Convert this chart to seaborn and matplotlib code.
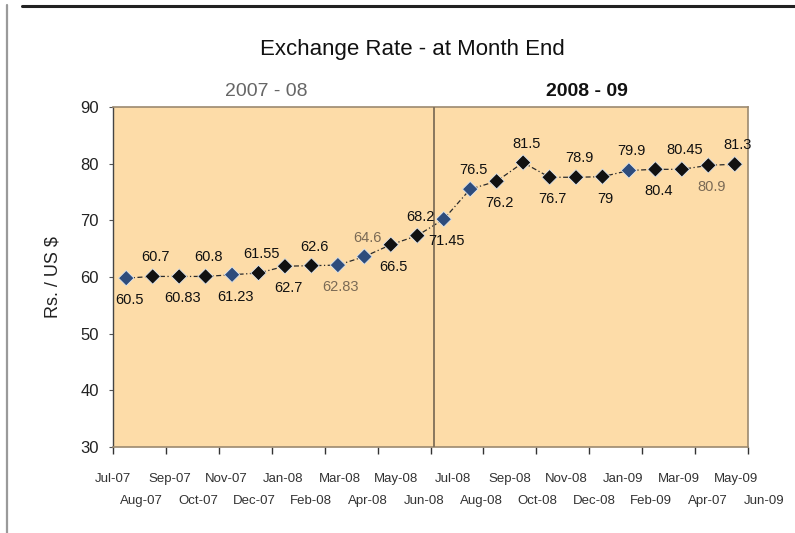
import matplotlib
matplotlib.use("Agg")
import matplotlib.pyplot as plt
import matplotlib.transforms as mtransforms
from matplotlib.lines import Line2D
import seaborn as sns
import pandas as pd

# ---------------- data ----------------
months = ["Jul-07", "Aug-07", "Sep-07", "Oct-07", "Nov-07", "Dec-07",
          "Jan-08", "Feb-08", "Mar-08", "Apr-08", "May-08", "Jun-08",
          "Jul-08", "Aug-08", "Sep-08", "Oct-08", "Nov-08", "Dec-08",
          "Jan-09", "Feb-09", "Mar-09", "Apr-07", "May-09", "Jun-09"]
# plotted positions of the markers
rates = [59.8, 60.1, 60.1, 60.1, 60.4, 60.7, 61.9, 62.0, 62.1, 63.6, 65.7, 67.3,
         70.2, 75.5, 76.9, 80.2, 77.6, 77.6, 77.7, 78.8, 79.0, 79.0, 79.7, 79.9]
# data-label texts printed on the chart
rate_labels = ["60.5", "60.7", "60.83", "60.8", "61.23", "61.55", "62.7", "62.6",
               "62.83", "64.6", "66.5", "68.2", "71.45", "76.5", "76.2", "81.5",
               "76.7", "78.9", "79", "79.9", "80.4", "80.45", "80.9", "81.3"]
periods = ["2007 - 08", "2008 - 09"]
yticks = [30, 40, 50, 60, 70, 80, 90]

# ---------------- style ----------------
sns.set_theme(style="white")
plt.rcParams["font.family"] = ["Liberation Sans", "DejaVu Sans"]

df = pd.DataFrame({"idx": range(len(months)), "rate": rates})
blue_pts = {0, 4, 8, 9, 12, 13, 19}
df["grp"] = ["b" if i in blue_pts else "k" for i in range(len(months))]
brown_lbl = {8, 9, 22}

fig = plt.figure(figsize=(7.95, 5.33), dpi=100)
ax = fig.add_axes([113 / 795, 1 - 447 / 533, 635 / 795, 340 / 533])
ax.set_facecolor("#FDDCA8")

sns.lineplot(data=df, x="idx", y="rate", ax=ax, color="#2a2a2a", lw=0.9,
             linestyle=(0, (4, 2, 1, 2)), legend=False)
sns.scatterplot(data=df, x="idx", y="rate", hue="grp", ax=ax,
                palette={"b": "#2E4C7C", "k": "#111111"}, marker="D", s=62,
                edgecolor="#dfe6ee", linewidth=0.6, legend=False, zorder=5)

for i, (v, t) in enumerate(zip(rates, rate_labels)):
    dy = -22 if i % 2 == 0 else 19
    ax.annotate(t, (i, v), xytext=(3, dy), textcoords="offset pixels",
                ha="center", va="center", fontsize=10.5,
                color="#7a6a55" if i in brown_lbl else "#111111", zorder=6)

ax.set_xlim(-0.5, 23.5)
ax.set_ylim(30, 90)
ax.set_yticks(yticks)
ax.set_yticklabels([str(y) for y in yticks], fontsize=12, color="#222222")
ax.set_xticks([x - 0.5 for x in range(0, 25, 2)])
ax.set_xticklabels([])
ax.tick_params(axis="x", direction="out", length=5, width=1, color="#333333", bottom=True)
ax.tick_params(axis="y", direction="out", length=3, width=0.8, color="#555555", left=True, pad=7)
ax.set_xlabel("")
ax.set_ylabel("Rs. / US $", fontsize=13, color="#222222", labelpad=14)
ax.grid(False)

for s in ["top", "right", "bottom"]:
    ax.spines[s].set_color("#9C8A70")
    ax.spines[s].set_linewidth(1.2)
ax.spines["left"].set_color("#444444")
ax.spines["left"].set_linewidth(1.0)

ax.axvline(11.62, color="#7F6F58", lw=1.3, zorder=3)

# month labels in two staggered rows
trans = mtransforms.blended_transform_factory(ax.transData, ax.transAxes)
for i, m in enumerate(months):
    x = -0.5 + i * 1.07
    y = -0.095 if i % 2 == 0 else -0.16
    ax.text(x, y, m, transform=trans, ha="center", va="center",
            fontsize=9.5, color="#333333")

fig.text(412 / 795, 1 - 50 / 533, "Exchange Rate - at Month End",
         ha="center", va="center", fontsize=16, color="#111111")
fig.text(266 / 795, 1 - 92 / 533, periods[0], ha="center", va="center",
         fontsize=14, color="#666666")
fig.text(587 / 795, 1 - 92 / 533, periods[1], ha="center", va="center",
         fontsize=14, color="#111111", fontweight="bold")

# outer frame lines
fig.add_artist(Line2D([22 / 795, 1.0], [1 - 6 / 533, 1 - 6 / 533],
                      transform=fig.transFigure, color="#222222", lw=2.2))
fig.add_artist(Line2D([7 / 795, 7 / 795], [0, 1 - 5 / 533],
                      transform=fig.transFigure, color="#9a9a9a", lw=1.6))

fig.savefig("out.png", dpi=100)
